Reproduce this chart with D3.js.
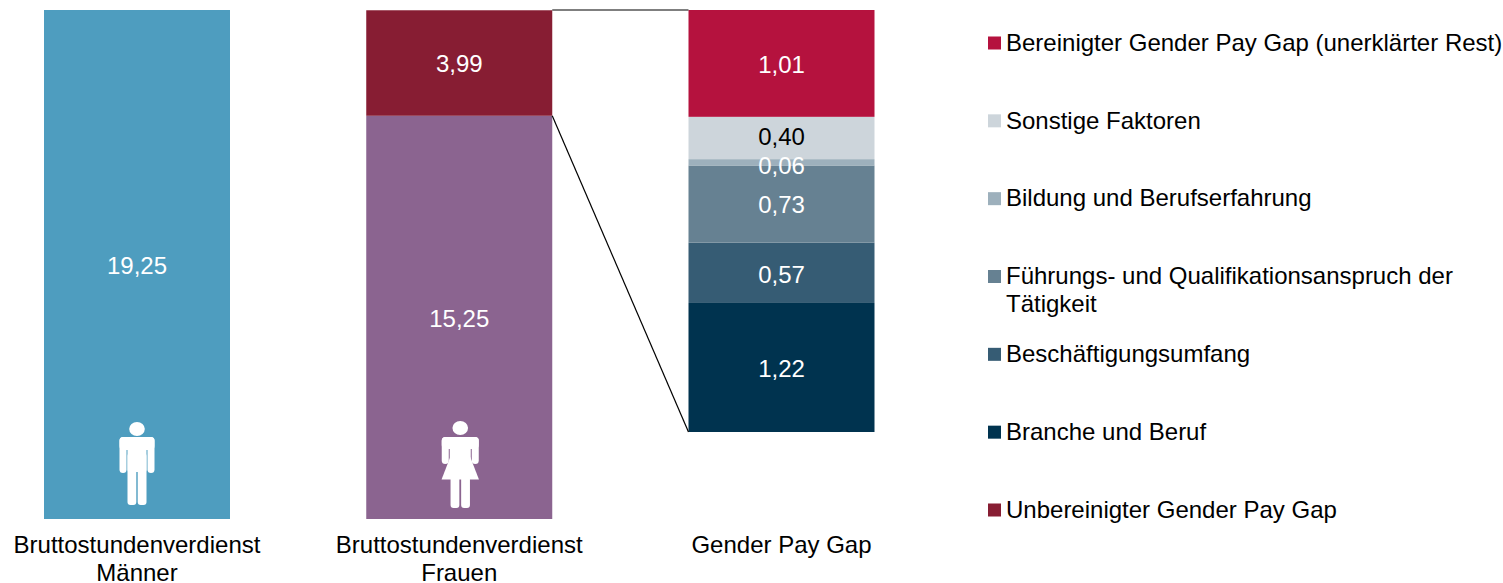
<!DOCTYPE html>
<html><head><meta charset="utf-8">
<script src="https://cdn.jsdelivr.net/npm/d3@7"></script>
<style>html,body{margin:0;padding:0;background:#fff;overflow:hidden}svg{display:block}text{font-family:"Liberation Sans",Arial,sans-serif;font-size:24px}</style>
</head><body><svg id="c" width="1503" height="583"></svg>
<script>
const columns = ["Männer", "Frauen", "Gap"];
const columnLabels = [["Bruttostundenverdienst","Männer"],["Bruttostundenverdienst","Frauen"],["Gender Pay Gap"]];
const menValues = [19.25];
const womenValues = [15.25, 3.99];
const gapValues = [1.22, 0.57, 0.73, 0.06, 0.40, 1.01];
const legendLabels = [["Bereinigter Gender Pay Gap (unerklärter Rest)"],["Sonstige Faktoren"],["Bildung und Berufserfahrung"],["Führungs- und Qualifikationsanspruch der","Tätigkeit"],["Beschäftigungsumfang"],["Branche und Beruf"],["Unbereinigter Gender Pay Gap"]];
const legendColors = ["#b5123e","#cdd5db","#9db0bc","#668192","#365c74","#00334f","#871d33"];
const menColors = ["#4e9dbf"];
const womenColors = ["#8b6490","#871d33"];
const gapColors = ["#00334f","#365c74","#668192","#9db0bc","#cdd5db","#b5123e"];
const gapTextColors = ["#fff","#fff","#fff","#fff","#000","#fff"];

const svg = d3.select("#c");
const de = d3.formatLocale({decimal:",",thousands:".",grouping:[3],currency:["","€"]});
const fmt = de.format(".2f");
const x = d3.scalePoint().domain(columns).range([137, 781.5]);
const barW = 186;
const yMain = d3.scaleLinear().domain([0, 19.25]).range([519, 10]);
const yGap = d3.scaleLinear().domain([0, d3.sum(gapValues)]).range([432, 10]);

function stack(col, values, colors, y, textColors, nudge){
  let acc = 0;
  values.forEach((v,i)=>{
    const y0 = y(acc), y1 = y(acc+v);
    svg.append("rect").attr("x",x(col)-barW/2).attr("width",barW).attr("y",y1).attr("height",y0-y1).attr("fill",colors[i]);
    acc += v;
  });
  acc = 0;
  values.forEach((v,i)=>{
    const mid = y(acc+v/2) + (nudge && nudge[i] || 0);
    svg.append("text").attr("x",x(col)).attr("y",mid).attr("dy","0.39em").attr("text-anchor","middle")
      .attr("fill",textColors?textColors[i]:"#fff").text(fmt(v));
    acc += v;
  });
}
stack("Männer", menValues, menColors, yMain);
stack("Frauen", womenValues, womenColors, yMain);
// the two thin segments' labels are pushed apart, as in the original
stack("Gap", gapValues, gapColors, yGap, gapTextColors, [0,0.6,0,2.8,-2.6,0.6]);

// connectors between the women's gap segment and the gap breakdown
const fr = x("Frauen")+barW/2, gl = x("Gap")-barW/2;
svg.append("line").attr("x1",fr).attr("x2",gl).attr("y1",yMain(19.25)).attr("y2",yGap(d3.sum(gapValues))).attr("stroke","#000").attr("stroke-width",1.2);
svg.append("line").attr("x1",fr).attr("x2",gl).attr("y1",yMain(womenValues[0])).attr("y2",yGap(0)).attr("stroke","#000").attr("stroke-width",1.2);

// icons
function rr(g,a,b,w,h,r){g.append("rect").attr("x",a).attr("y",b).attr("width",w).attr("height",h).attr("rx",r).attr("fill","#fff");}
const m = svg.append("g").attr("transform",`translate(${x("Männer")},423)`);
m.append("ellipse").attr("cy",6).attr("rx",7.8).attr("ry",7).attr("fill","#fff");
rr(m,-17.5,14,35,13,4);
rr(m,-17.5,14,7,36,3.5); rr(m,10.5,14,7,36,3.5);
rr(m,-9.5,14,19,35,2);
rr(m,-9.5,30,8.8,52,3); rr(m,0.7,30,8.8,52,3);
const f = svg.append("g").attr("transform",`translate(${x("Frauen")+1},421)`);
f.append("ellipse").attr("cy",7).attr("rx",7.8).attr("ry",7).attr("fill","#fff");
rr(f,-18.5,16,37,12,4);
rr(f,-18.5,16,7,27,3.5); rr(f,11.5,16,7,27,3.5);
rr(f,-10.5,16,21,24,1);
f.append("path").attr("d","M-10,36L10,36L18.7,58.5L-18.7,58.5Z").attr("fill","#fff");
rr(f,-9.7,50,8.8,37,3); rr(f,0.9,50,8.8,37,3);

// column labels
columns.forEach((c,i)=>{
  const t = svg.append("text").attr("text-anchor","middle").attr("fill","#000");
  columnLabels[i].forEach((s,j)=>t.append("tspan").attr("x",x(c)).attr("y",553+j*28).text(s));
});

// legend
const legendY = d3.scalePoint().domain(d3.range(legendLabels.length)).range([43,510]);
legendLabels.forEach((lines,i)=>{
  const ly = legendY(i);
  svg.append("rect").attr("x",988).attr("y",ly-6.5).attr("width",13).attr("height",13).attr("fill",legendColors[i]);
  const t = svg.append("text").attr("fill","#000");
  lines.forEach((s,j)=>t.append("tspan").attr("x",1006).attr("y",ly+7.8+j*27.5).text(s));
});
</script></body></html>
